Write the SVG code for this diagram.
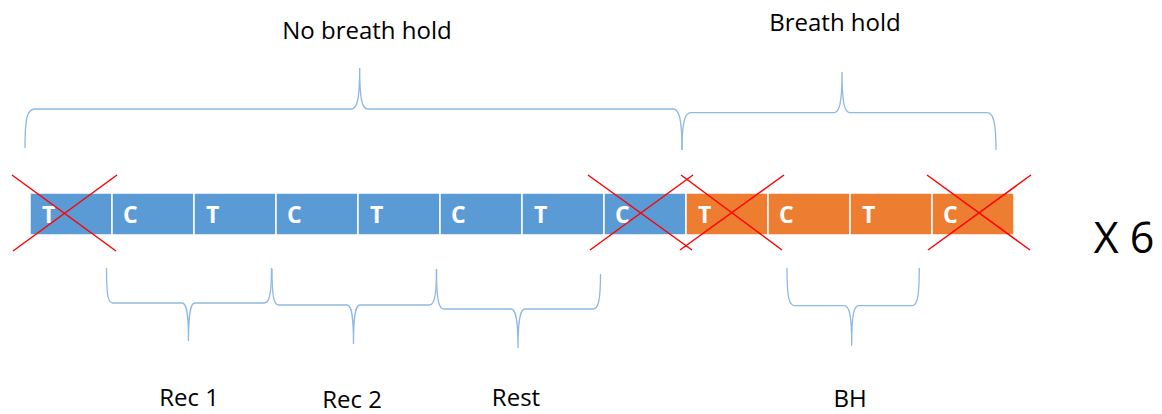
<svg xmlns="http://www.w3.org/2000/svg" width="1162" height="414" viewBox="0 0 1162 414">
  <style>
    .cell-blue { fill: #5b9bd5; stroke: #ffffff; stroke-width: 1.5; }
    .cell-orange { fill: #ed7d31; stroke: #ffffff; stroke-width: 1.5; }
    .cell-label { font-family: "Open Sans", "Liberation Sans", sans-serif; font-weight: bold; font-size: 23px; fill: #ffffff; }
    .label { font-family: "Open Sans", "Liberation Sans", sans-serif; font-size: 24px; fill: #000000; text-anchor: middle; }
    .brace { fill: none; stroke: #8fb9e3; stroke-width: 1.3; }
    .cross { stroke: #ff0000; stroke-width: 1.5; }
  </style>

  <!-- Section labels -->
  <g id="label-no-breath-hold"><text class="label" x="367" y="39">No breath hold</text></g>
  <g id="label-breath-hold"><text class="label" x="835" y="31">Breath hold</text></g>

  <!-- Sequence of alternating T / C blocks -->
  <g id="cell-1"><rect class="cell-blue" x="30" y="193" width="82" height="42"/><text class="cell-label" x="42" y="223">T</text></g>
  <g id="cell-2"><rect class="cell-blue" x="112" y="193" width="82" height="42"/><text class="cell-label" x="123" y="223">C</text></g>
  <g id="cell-3"><rect class="cell-blue" x="194" y="193" width="82" height="42"/><text class="cell-label" x="206" y="223">T</text></g>
  <g id="cell-4"><rect class="cell-blue" x="276" y="193" width="82" height="42"/><text class="cell-label" x="287" y="223">C</text></g>
  <g id="cell-5"><rect class="cell-blue" x="358" y="193" width="82" height="42"/><text class="cell-label" x="370" y="223">T</text></g>
  <g id="cell-6"><rect class="cell-blue" x="440" y="193" width="82" height="42"/><text class="cell-label" x="451" y="223">C</text></g>
  <g id="cell-7"><rect class="cell-blue" x="522" y="193" width="82" height="42"/><text class="cell-label" x="534" y="223">T</text></g>
  <g id="cell-8"><rect class="cell-blue" x="604" y="193" width="82" height="42"/><text class="cell-label" x="615" y="223">C</text></g>
  <g id="cell-9"><rect class="cell-orange" x="686" y="193" width="82" height="42"/><text class="cell-label" x="698" y="223">T</text></g>
  <g id="cell-10"><rect class="cell-orange" x="768" y="193" width="82" height="42"/><text class="cell-label" x="779" y="223">C</text></g>
  <g id="cell-11"><rect class="cell-orange" x="850" y="193" width="82" height="42"/><text class="cell-label" x="862" y="223">T</text></g>
  <g id="cell-12"><rect class="cell-orange" x="932" y="193" width="82" height="42"/><text class="cell-label" x="943" y="223">C</text></g>

  <!-- Discarded blocks -->
  <g id="crosses">
    <line class="cross" x1="12" y1="175" x2="116" y2="251"/>
    <line class="cross" x1="117" y1="175" x2="13" y2="251"/>
    <line class="cross" x1="588" y1="175" x2="692" y2="250"/>
    <line class="cross" x1="693" y1="175" x2="590" y2="250"/>
    <line class="cross" x1="681" y1="175" x2="782" y2="250"/>
    <line class="cross" x1="784" y1="175" x2="680" y2="250"/>
    <line class="cross" x1="927" y1="175" x2="1030" y2="250"/>
    <line class="cross" x1="1031" y1="175" x2="928" y2="250"/>
  </g>

  <!-- Braces -->
  <g id="connectors">
    <path class="brace" d="M25,148 C25,118 27,109 35,109 L351,109 C357,109 359.7,100 359.7,68 C359.7,100 362,109 368,109 L673,109 C679,109 682,118 682,150"/>
    <path class="brace" d="M682,150 C682,121 685,112.7 691,112.7 L834,112.7 C839,112.7 842,105 842,72 C842,105 845,112.7 850,112.7 L987,112.7 C993,112.7 996,121 996,150"/>
    <path class="brace" d="M106.5,268 C106.5,296 108,303 113,303 L182,303 C186,303 188.5,310 188.5,341 C188.5,310 191,303 195,303 L264,303 C269,303 271.5,296 271.5,268"/>
    <path class="brace" d="M272,269 C272,298 274,305 279,305 L347,305 C351,305 353.5,312 353.5,344 C353.5,312 356,305 360,305 L429,305 C434,305 436.5,298 436.5,269"/>
    <path class="brace" d="M436.5,270 C436.5,301 439,309 444,309 L511,309 C515,309 518,316 518,348 C518,316 521,309 525,309 L593,309 C598,309 600.5,302 600.5,274"/>
    <path class="brace" d="M787,268 C787,298 789,305.7 795,305.7 L844,305.7 C849,305.7 851.7,313 851.7,345.7 C851.7,313 854,305.7 859,305.7 L912,305.7 C917,305.7 919.3,298 919.3,268"/>
  </g>

  <!-- Segment labels -->
  <g id="label-rec1"><text class="label" x="189" y="406">Rec 1</text></g>
  <g id="label-rec2"><text class="label" x="352" y="408">Rec 2</text></g>
  <g id="label-rest"><text class="label" x="516" y="406">Rest</text></g>
  <g id="label-bh"><text class="label" x="850" y="407">BH</text></g>

  <!-- Repetition count -->
  <g id="label-repeat"><text x="1124" y="253" font-family="Open Sans, Liberation Sans, sans-serif" font-size="43" text-anchor="middle" fill="#000000">X 6</text></g>
</svg>
